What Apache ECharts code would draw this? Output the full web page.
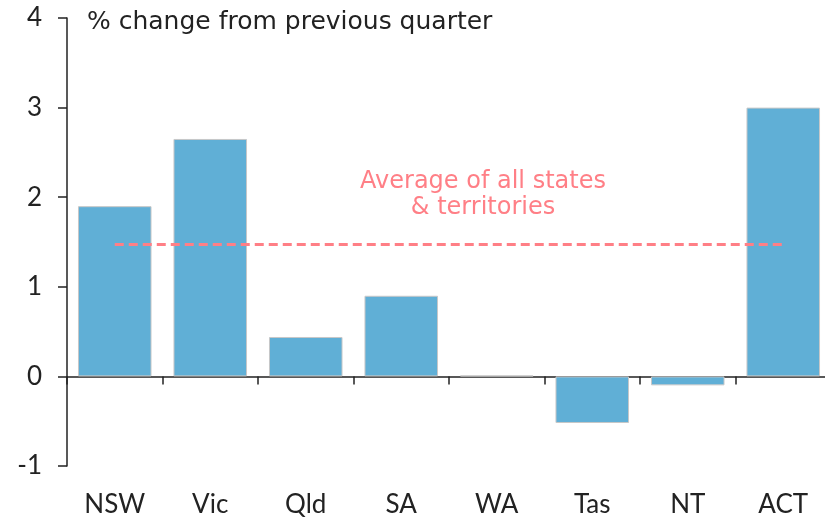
<!DOCTYPE html>
<html><head><meta charset="utf-8">
<script src="https://cdn.jsdelivr.net/npm/echarts@6/dist/echarts.min.js"></script>
<style>html,body{margin:0;padding:0;background:#fff}#c{width:825px;height:519px}</style>
</head><body><div id="c"></div>
<script>
const categories = ['NSW','Vic','Qld','SA','WA','Tas','NT','ACT'];
const values = [1.9, 2.65, 0.44, 0.9, 0.01, -0.52, -0.1, 3.0];
const averageValue = 1.48;
const yTicks = [-1, 0, 1, 2, 3, 4];
const titleText = '% change from previous quarter';
const avgLabel = 'Average of all states\n& territories';

const FONT = 'Lato';
const WIDE = 'DejaVu Sans';
const chart = echarts.init(document.getElementById('c'), null, {renderer:'canvas'});
chart.setOption({
  animation:false,
  grid:{left:67, width:764, top:18, bottom:53, containLabel:false, outerBoundsMode:'none'},
  xAxis:[{
    type:'category', data:categories, position:'bottom',
    axisLine:{onZero:true, lineStyle:{color:'#222', width:1.5}},
    axisTick:{show:true, alignWithLabel:false, length:8, lineStyle:{color:'#222', width:1.5}},
    axisLabel:{show:false}, splitLine:{show:false}
  },{
    type:'category', data:categories, position:'bottom',
    axisLine:{show:false, onZero:false}, axisTick:{show:false},
    axisLabel:{show:true, margin:26, color:'#222', fontFamily:FONT, fontSize:26}
  }],
  yAxis:{
    type:'value', min:yTicks[0], max:yTicks[yTicks.length-1], interval:1,
    axisLine:{show:true, lineStyle:{color:'#222', width:1.5}},
    axisTick:{show:true, inside:false, length:9, lineStyle:{color:'#222', width:1.5}},
    axisLabel:{margin:25, color:'#222', fontFamily:FONT, fontSize:26},
    splitLine:{show:false}
  },
  graphic:[
    {type:'text', x:87, y:22, style:{text:titleText, fill:'#222', font:'25px "'+WIDE+'"', textVerticalAlign:'middle', verticalAlign:'middle'}},
    {type:'text', x:483, y:195, style:{text:avgLabel, fill:'#ff7f86', font:'24px "'+WIDE+'"', align:'center', textAlign:'center', verticalAlign:'middle', textVerticalAlign:'middle', lineHeight:26}}
  ],
  series:[{
    type:'bar', data:values, barCategoryGap:'23%',
    itemStyle:{color:'#60afd6', borderColor:'#c8c8c8', borderWidth:1},
    markLine:{
      silent:true, symbol:'none', label:{show:false},
      lineStyle:{color:'#ff7f86', type:[9,5], width:3},
      data:[[{coord:[categories[0], averageValue]},{coord:[categories[categories.length-1], averageValue]}]]
    }
  }]
});
</script></body></html>
